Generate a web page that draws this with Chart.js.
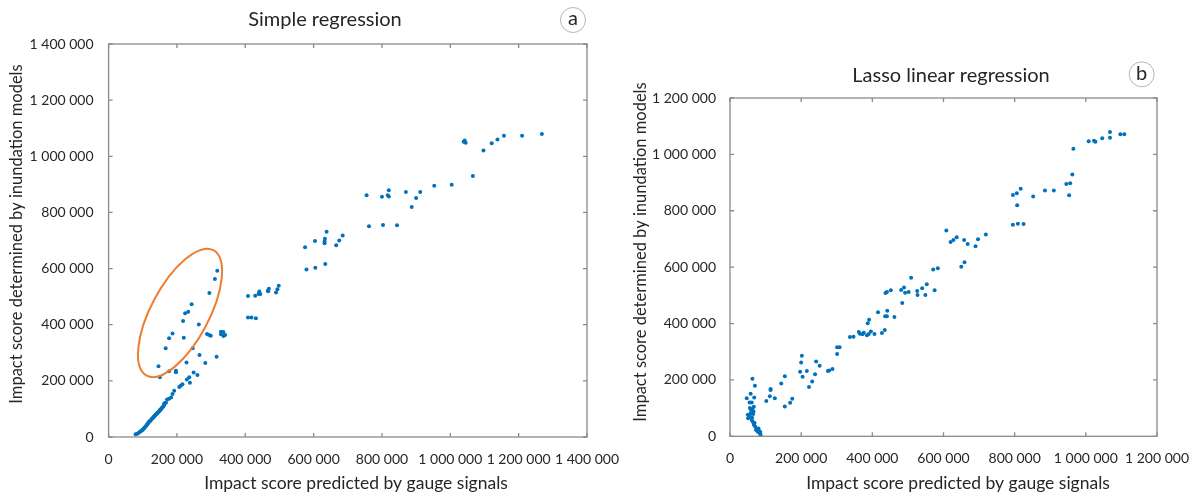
<!DOCTYPE html>
<html>
<head>
<meta charset="utf-8">
<title>Impact score regressions</title>
<script src="https://cdn.jsdelivr.net/npm/chart.js@4.4.1/dist/chart.umd.min.js"></script>
<style>
    html, body { margin: 0; padding: 0; background: #fff; }
    #wrap { position: relative; width: 1197px; height: 495px; overflow: hidden; }
    #simpleChart { position: absolute; left: 0; top: 0; }
    #lassoChart { position: absolute; left: 600px; top: 0; }
</style>
</head>
<body>
<div id="wrap">
    <canvas id="simpleChart" width="640" height="495"></canvas>
    <canvas id="lassoChart" width="597" height="495"></canvas>
</div>
<script>
// ===== DATA (values in thousands) =====

// ---- a: Simple regression ----
const simplePred = [
    79, 84, 88, 92, 95, 98, 100, 103, 105, 107, 110, 112, 113, 116, 118, 119, 121, 123, 126, 128,
    130, 132, 134, 136, 137, 139, 141, 143, 145, 148, 150, 151, 154, 155, 157, 160, 162,
    163, 168, 171, 177, 183, 187, 192, 207, 211, 216, 238, 229, 260, 249, 236, 197, 197, 177, 150,
    146, 167, 177, 187, 220, 218, 224, 233, 243, 264, 295, 311, 318,
    246, 266, 228, 283, 316, 288, 294, 299, 329, 329, 336, 336, 341,
    408, 408, 418, 431, 429, 440, 441, 439, 444, 466, 469, 467, 490, 494, 498,
    575, 579, 604, 605, 634, 632, 633, 632, 638, 666, 675, 685,
    755, 762, 800, 803, 817, 820, 820, 844, 870, 887, 900, 912, 953, 1004,
    1039, 1042, 1045, 1066, 1097, 1121, 1138, 1157, 1210, 1268
];
const simpleModel = [
    10, 12, 15, 19, 21, 24, 26, 30, 33, 36, 40, 43, 45, 50, 53, 55, 57, 59, 64, 66,
    69, 72, 74, 77, 78, 81, 83, 86, 88, 92, 95, 97, 100, 102, 105, 109, 113,
    120, 122, 134, 136, 141, 153, 165, 178, 183, 188, 193, 205, 221, 230, 213, 231, 236, 234, 213,
    252, 316, 352, 369, 354, 413, 441, 446, 473, 401, 513, 563, 592,
    316, 292, 265, 264, 286, 367, 363, 361, 375, 366, 374, 360, 363,
    502, 426, 426, 423, 503, 512, 518, 509, 509, 521, 528, 519, 515, 526, 539,
    676, 597, 698, 603, 616, 696, 706, 690, 731, 683, 700, 718,
    861, 751, 856, 755, 861, 857, 879, 754, 873, 819, 851, 873, 895, 899,
    1052, 1056, 1048, 930, 1021, 1046, 1060, 1073, 1073, 1079
];

// ---- b: Lasso linear regression ----
const lassoPred = [
    63, 70, 58, 68, 47, 55, 61, 67, 56, 59, 50, 56, 51, 61, 65, 64, 67, 71, 75, 80,
    82, 84, 86, 85, 54, 58, 62, 66, 63, 69, 73, 78, 86,
    102, 112, 114, 114, 126, 144, 154, 154, 169, 175, 197, 200, 202, 204, 216, 222, 231,
    239, 242, 252, 275, 279, 288, 301, 301, 308, 337, 347, 362, 365, 372, 376, 385, 390,
    396, 406, 387, 391, 427, 435, 416, 436, 441, 442, 462, 437, 441, 452, 481, 484, 489,
    492, 502, 509, 526, 527, 540, 549, 553, 575, 571, 584, 650, 659,
    608, 620, 628, 637, 658, 668, 690, 697, 719, 795, 809, 825, 807, 795, 806, 817,
    852, 885, 910, 953, 945, 956, 962, 965, 1008, 1023, 1027, 1046, 1068, 1068, 1097, 1108
];
const lassoModel = [
    204, 179, 151, 138, 135, 120, 120, 105, 100, 93, 76, 70, 64, 58, 79, 52, 41, 34, 26, 28,
    19, 11, 5, 15, 74, 82, 66, 88, 97, 47, 22, 16, 2,
    125, 142, 164, 168, 135, 187, 213, 106, 119, 133, 229, 262, 286, 211, 232, 175, 194,
    220, 265, 250, 232, 233, 239, 292, 316, 316, 352, 353, 370, 364, 362, 367, 358, 363,
    372, 363, 401, 413, 366, 377, 440, 426, 426, 445, 423, 508, 512, 518, 519, 473, 528,
    509, 512, 562, 515, 501, 525, 501, 539, 518, 592, 596, 601, 617,
    730, 689, 696, 706, 696, 682, 674, 699, 716, 750, 754, 753, 820, 856, 862, 878,
    851, 872, 872, 855, 895, 898, 929, 1020, 1047, 1048, 1045, 1057, 1079, 1059, 1071, 1071
];

const X_TITLE = 'Impact score predicted by gauge signals';
const Y_TITLE = 'Impact score determined by inundation models';

const FONT = 'Lato, "Open Sans", sans-serif';
const INK = '#262626';
const DOT = '#0072BD';

function fmtSpace(v) {
    return String(v).replace(/\B(?=(\d{3})+(?!\d))/g, ' ');
}

function toPoints(xs, ys) {
    return xs.map((x, i) => ({ x: x * 1000, y: ys[i] * 1000 }));
}

// ---- Plugins ----

// box round the plot area, with inward tick marks on all four sides
const framePlugin = {
    id: 'frame',
    afterDraw(chart) {
        const { ctx, chartArea: a, scales: { x, y } } = chart;
        const len = 4;
        ctx.save();
        ctx.strokeStyle = '#8a8a8a';
        ctx.lineWidth = 1.3;
        ctx.beginPath();
        x.ticks.forEach(t => {
            const px = x.getPixelForValue(t.value);
            ctx.moveTo(px, a.bottom); ctx.lineTo(px, a.bottom - len);
            ctx.moveTo(px, a.top); ctx.lineTo(px, a.top + len);
        });
        y.ticks.forEach(t => {
            const py = y.getPixelForValue(t.value);
            ctx.moveTo(a.left, py); ctx.lineTo(a.left + len, py);
            ctx.moveTo(a.right, py); ctx.lineTo(a.right - len, py);
        });
        ctx.stroke();
        ctx.strokeRect(a.left, a.top, a.right - a.left, a.bottom - a.top);
        ctx.restore();
    }
};

// panel title, circled letter and the two axis titles
const headPlugin = {
    id: 'head',
    afterDraw(chart, args, o) {
        const { ctx } = chart;
        ctx.save();
        ctx.fillStyle = INK;
        ctx.textAlign = 'center';
        ctx.textBaseline = 'middle';
        ctx.font = `20px ${FONT}`;
        ctx.fillText(o.title, o.titleX, o.titleY);

        ctx.beginPath();
        ctx.arc(o.letterX, o.letterY, 12.5, 0, Math.PI * 2);
        ctx.strokeStyle = '#b5b5b5';
        ctx.lineWidth = 1;
        ctx.stroke();
        ctx.font = `20px ${FONT}`;
        ctx.fillText(o.letter, o.letterX, o.letterY - 1);

        ctx.font = `17.5px ${FONT}`;
        ctx.fillText(X_TITLE, o.xTitleX, o.xTitleY);
        ctx.translate(o.yTitleX, o.yTitleY);
        ctx.rotate(-Math.PI / 2);
        ctx.font = `16.5px ${FONT}`;
        ctx.fillText(Y_TITLE, 0, 0);
        ctx.restore();
    }
};

// orange ring round the off-trend group (panel a only)
const ringPlugin = {
    id: 'ring',
    afterDatasetsDraw(chart, args, o) {
        if (!o || !o.show) return;
        const { ctx, scales: { x, y } } = chart;
        const cx = x.getPixelForValue(o.cx);
        const cy = y.getPixelForValue(o.cy);
        ctx.save();
        ctx.beginPath();
        ctx.ellipse(cx, cy, o.rx, o.ry, o.rot * Math.PI / 180, 0, Math.PI * 2);
        ctx.strokeStyle = '#ED7D31';
        ctx.lineWidth = 2;
        ctx.stroke();
        ctx.restore();
    }
};

function buildChart(id, points, cfg) {
    const tickFont = { family: FONT, size: 14 };
    return new Chart(document.getElementById(id), {
        type: 'scatter',
        data: {
            datasets: [{
                data: points,
                backgroundColor: DOT,
                borderWidth: 0,
                pointRadius: 2,
                pointHoverRadius: 2,
            }]
        },
        options: {
            responsive: false,
            animation: false,
            layout: { padding: cfg.padding },
            plugins: {
                legend: { display: false },
                tooltip: { enabled: false },
                head: cfg.head,
                ring: cfg.ring || { show: false },
            },
            scales: {
                x: {
                    type: 'linear', min: 0, max: cfg.max,
                    grid: { display: false },
                    border: { display: false },
                    ticks: {
                        stepSize: 200000, autoSkip: false, maxRotation: 0, padding: 6,
                        color: INK, font: tickFont, callback: fmtSpace,
                    },
                    afterFit: s => { s.height = cfg.xHeight; },
                },
                y: {
                    type: 'linear', min: 0, max: cfg.max,
                    grid: { display: false },
                    border: { display: false },
                    ticks: {
                        stepSize: 200000, autoSkip: false, padding: cfg.yPad,
                        color: INK, font: tickFont, callback: fmtSpace,
                    },
                    afterFit: s => { s.width = cfg.yWidth; },
                },
            },
        },
        plugins: [framePlugin, headPlugin, ringPlugin],
    });
}

buildChart('simpleChart', toPoints(simplePred, simpleModel), {
    max: 1400000,
    padding: { left: 0, top: 44, right: 53, bottom: 0 },
    xHeight: 58,
    yWidth: 108.6,
    yPad: 7,
    head: {
        title: 'Simple regression', titleX: 325, titleY: 20,
        letter: 'a', letterX: 573, letterY: 20,
        xTitleX: 356, xTitleY: 483, yTitleX: 17, yTitleY: 234,
    },
    ring: { show: true, cx: 209000, cy: 442000, rx: 71, ry: 29, rot: -62 },
});

buildChart('lassoChart', toPoints(lassoPred, lassoModel), {
    max: 1200000,
    padding: { left: 0, top: 98, right: 40, bottom: 0 },
    xHeight: 58.7,
    yWidth: 130,
    yPad: 6,
    head: {
        title: 'Lasso linear regression', titleX: 351, titleY: 76,
        letter: 'b', letterX: 541.7, letterY: 74.3,
        xTitleX: 358, xTitleY: 483, yTitleX: 41, yTitleY: 252,
    },
});
</script>
</body>
</html>
